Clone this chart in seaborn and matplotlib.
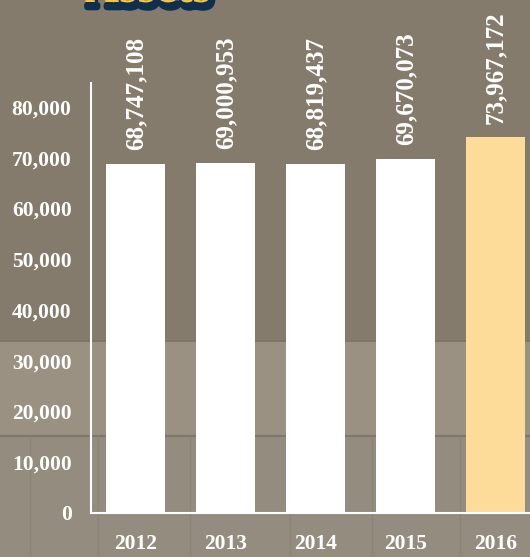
import matplotlib
matplotlib.use("Agg")
import matplotlib.pyplot as plt
import matplotlib.patheffects as pe
import seaborn as sns

# total assets per year (full value), plotted in thousands
years = ["2012", "2013", "2014", "2015", "2016"]
assets = [68747108, 69000953, 68819437, 69670073, 73967172]
bar_colors = ["#ffffff", "#ffffff", "#ffffff", "#ffffff", "#fddb98"]
y_ticks = [0, 10000, 20000, 30000, 40000, 50000, 60000, 70000, 80000]

serif = ["Liberation Serif", "DejaVu Serif"]

sns.set_theme(style="white")
plt.rcParams["font.family"] = serif

fig = plt.figure(figsize=(5.30, 5.57), dpi=100)

# wood-ish background bands
bg = fig.add_axes([0, 0, 1, 1], zorder=-1)
bg.set_xlim(0, 530)
bg.set_ylim(557, 0)
bg.axis("off")
bg.axhspan(0, 341, color="#857b6c")
bg.axhspan(341, 436, color="#9a9182")
bg.axhspan(436, 557, color="#948c7f")
bg.axhline(341, color="#7b7264", lw=1.2)
bg.axhline(436, color="#807769", lw=1.5)
for xp in [30, 98, 190, 290, 372, 460]:
    bg.axvline(xp, ymin=0, ymax=(557 - 436) / 557, color="#8c8477", lw=1.0)

ax = fig.add_axes([91 / 530, 44 / 557, 439 / 530, 430 / 557])
ax.set_facecolor("none")

heights = [v / 1000 for v in assets]
sns.barplot(x=years, y=heights, hue=years, palette=bar_colors, legend=False,
            width=0.66, saturation=1, linewidth=0, ax=ax)

for i, (h, v) in enumerate(zip(heights, assets)):
    ax.annotate(f"{v:,}", xy=(i, h), xytext=(0, 10), textcoords="offset points",
                rotation=90, ha="center", va="bottom", color="white",
                fontsize=18, fontweight="bold", family=serif)

ax.set_xlim(-0.494, 4.383)
ax.set_ylim(0, 84700)
ax.set_yticks(y_ticks)
ax.set_yticklabels([f"{t:,}" for t in y_ticks])
ax.tick_params(axis="both", length=0, colors="white", labelsize=15.5)
ax.tick_params(axis="y", pad=14)
ax.tick_params(axis="x", pad=15)
for lab in ax.get_xticklabels() + ax.get_yticklabels():
    lab.set_fontweight("bold")
    lab.set_color("white")

for side in ["top", "right"]:
    ax.spines[side].set_visible(False)
for side in ["left", "bottom"]:
    ax.spines[side].set_color("white")
    ax.spines[side].set_linewidth(1.5)
ax.set_xlabel("")
ax.set_ylabel("")

# title, mostly cut off at the top edge
fig.text(85 / 530, 555 / 557, "Assets", color="#f6c344", fontsize=34,
         fontweight="bold", family=serif, ha="left", va="baseline",
         path_effects=[pe.Stroke(linewidth=5, foreground="#0f2f4f", offset=(1.5, -3.5)),
                       pe.Normal()])

fig.savefig("out.png", dpi=100)
